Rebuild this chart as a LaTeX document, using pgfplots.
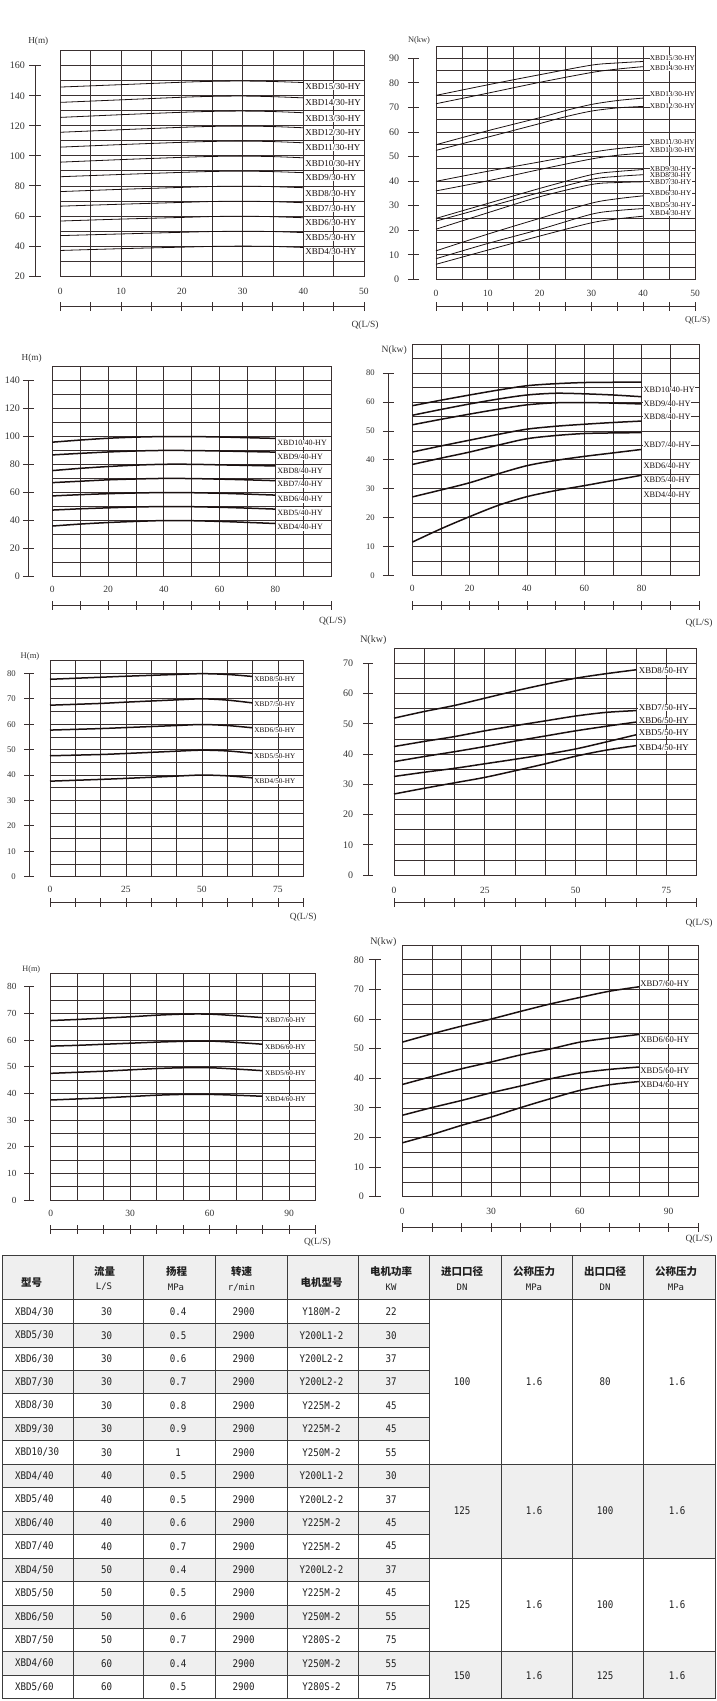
\documentclass[border=0pt]{standalone}
\usepackage{fontspec}
\setmainfont{Liberation Serif}
\newfontfamily\cjk{Noto Sans CJK SC}
\newfontfamily\tmono[FakeStretch=0.87]{DejaVu Sans Mono}
\newfontfamily\tmonoh{DejaVu Sans Mono}
\usepackage{pgfplots}
\pgfplotsset{compat=1.18}
\definecolor{gridc}{HTML}{3A3030}
\definecolor{txtc}{HTML}{333333}
\definecolor{curvec}{HTML}{1A1010}
\definecolor{rowg}{HTML}{EFEFEF}
\definecolor{tline}{HTML}{3C3C3C}
\newcommand\fs[1]{\fontsize{#1}{#1}\selectfont}
\tikzset{lab/.style={anchor=west, fill=white, inner sep=0.6pt, text=curvec}}
\pgfplotsset{
  /pgf/number format/assume math mode=true,
  box/.style={scale only axis, anchor=south west, clip=false, grid=major,
    major grid style={line width=0.75pt, draw=gridc},
    axis line style={line width=0.8pt, draw=gridc},
    major tick length=0pt, yticklabels={},
    xticklabel style={anchor=center, inner sep=0pt, text=txtc, font=\fs{9.5}}},
  ysc/.style={scale only axis, anchor=south west, width=1pt, xmin=0, xmax=1,
    hide x axis, axis y line=left, y axis line style={-, line width=0.8pt, draw=gridc},
    tick align=center, major tick length=10.7pt, ytick style={line width=0.8pt, draw=gridc},
    yticklabel style={anchor=east, inner sep=0pt, text=txtc, font=\fs{10}}},
  xsc/.style={scale only axis, anchor=south west, height=1pt, ymin=0, ymax=1,
    hide y axis, axis x line=bottom, x axis line style={-, line width=0.8pt, draw=gridc},
    tick align=center, major tick length=9pt, xtick style={line width=0.8pt, draw=gridc}, xticklabels={}},
  thinc/.style={curvec, line width=0.8pt, smooth, no marks},
  thickc/.style={curvec, line width=1.5pt, smooth, no marks},
}
\newcommand\trow[7]{%
  \pgfmathsetmacro\yy{-1300-23.45*(#1-0.5)}%
  \node[anchor=west, inner sep=0pt] at (15,\yy) {#2};
  \node at (106.5,\yy) {#3};
  \node at (178,\yy) {#4};
  \node at (243.5,\yy) {#5};
  \node at (321.5,\yy) {#6};
  \node at (391,\yy) {#7};
}
\begin{document}
\begin{tikzpicture}
\useasboundingbox (0,0) rectangle (716pt,-1701pt);

%================ chart 1: H 30
\begin{axis}[box, at={(60.3pt,-276pt)}, width=303.7pt, height=225.3pt,
  xmin=0, xmax=50, ymin=20, ymax=170, xtick={0,5,...,50}, ytick={20,30,...,170},
  xticklabels={0,,10,,20,,30,,40,,50}, xticklabel style={yshift=-15.7pt}]
\addplot[thinc] coordinates {(0,37.0)(10,38.2)(20,39.2)(25,39.7)(30,39.9)(35,39.7)(40,39.0)};
\addplot[thinc] coordinates {(0,46.9)(10,48.0)(20,49.1)(25,49.6)(30,49.8)(35,49.6)(40,48.9)};
\addplot[thinc] coordinates {(0,56.6)(10,57.9)(20,59.0)(25,59.6)(30,59.8)(35,59.5)(40,58.8)};
\addplot[thinc] coordinates {(0,66.5)(10,67.8)(20,69.0)(25,69.6)(30,69.8)(35,69.5)(40,68.8)};
\addplot[thinc] coordinates {(0,76.2)(10,77.7)(20,79.0)(25,79.6)(30,79.8)(35,79.5)(40,78.8)};
\addplot[thinc] coordinates {(0,86.1)(10,87.6)(20,89.0)(25,89.6)(30,89.8)(35,89.5)(40,88.8)};
\addplot[thinc] coordinates {(0,95.8)(10,97.5)(20,99.0)(25,99.6)(30,99.8)(35,99.5)(40,98.7)};
\addplot[thinc] coordinates {(0,105.8)(10,107.5)(20,109.0)(25,109.6)(30,109.8)(35,109.5)(40,108.7)};
\addplot[thinc] coordinates {(0,115.7)(10,117.4)(20,119.0)(25,119.6)(30,119.8)(35,119.5)(40,118.7)};
\addplot[thinc] coordinates {(0,125.6)(10,127.4)(20,129.0)(25,129.6)(30,129.8)(35,129.5)(40,128.7)};
\addplot[thinc] coordinates {(0,135.6)(10,137.3)(20,139.0)(25,139.6)(30,139.8)(35,139.4)(40,138.6)};
\addplot[thinc] coordinates {(0,145.8)(10,147.4)(20,149.0)(25,149.6)(30,149.8)(35,149.5)(40,148.8)};
\begin{scope}[every node/.style={lab, font=\fs{9}}]
\node at (axis cs:40.2,146.0) {XBD15/30-HY};
\node at (axis cs:40.2,135.6) {XBD14/30-HY};
\node at (axis cs:40.2,125.0) {XBD13/30-HY};
\node at (axis cs:40.2,115.7) {XBD12/30-HY};
\node at (axis cs:40.2,105.4) {XBD11/30-HY};
\node at (axis cs:40.2,95.0) {XBD10/30-HY};
\node at (axis cs:40.2,85.5) {XBD9/30-HY};
\node at (axis cs:40.2,75.1) {XBD8/30-HY};
\node at (axis cs:40.2,65.1) {XBD7/30-HY};
\node at (axis cs:40.2,55.5) {XBD6/30-HY};
\node at (axis cs:40.2,45.5) {XBD5/30-HY};
\node at (axis cs:40.2,36.2) {XBD4/30-HY};
\end{scope}
\end{axis}
\begin{axis}[ysc, at={(35pt,-276pt)}, height=210.3pt, ymin=20, ymax=160, ytick={20,40,...,160},
  major tick length=12pt, yticklabel style={xshift=-4pt}]
\end{axis}
\begin{axis}[xsc, at={(60.3pt,-306.6pt)}, width=303.7pt, xmin=0, xmax=50, xtick={0,5,...,50}]
\end{axis}
\node[text=txtc, font=\fs{9.2}] at (38.3pt,-41.7pt) {H(m)};
\node[text=txtc, font=\fs{9.5}] at (365pt,-325pt) {Q(L/S)};

%================ chart 2: N 30
\begin{axis}[box, at={(436pt,-279.3pt)}, width=259pt, height=233.3pt,
  xmin=0, xmax=50, ymin=0, ymax=95, xtick={0,5,...,50}, ytick={0,5,...,95},
  xticklabels={0,,10,,20,,30,,40,,50}, xticklabel style={yshift=-14pt}]
\addplot[thinc] coordinates {(0,74.9)(10,79.2)(20,83.3)(30,87.2)(35,88.1)(40,88.7)};
\addplot[thinc] coordinates {(0,71.5)(10,75.8)(20,80.2)(30,84.2)(35,85.6)(40,86.6)};
\addplot[thinc] coordinates {(0,54.8)(10,60.5)(20,65.8)(25,68.7)(30,71.2)(35,72.8)(40,73.8)};
\addplot[thinc] coordinates {(0,52.5)(10,57.9)(20,63.4)(25,66.2)(30,68.5)(35,69.8)(40,70.4)};
\addplot[thinc] coordinates {(0,39.9)(10,44.0)(20,47.8)(30,51.7)(35,53.2)(40,54.2)};
\addplot[thinc] coordinates {(0,36.0)(10,40.1)(20,44.7)(30,49.0)(35,50.5)(40,51.4)};
\addplot[thinc] coordinates {(0,24.8)(10,30.9)(20,37.0)(30,42.6)(35,43.9)(40,44.7)};
\addplot[thinc] coordinates {(0,23.7)(10,29.5)(20,35.3)(30,40.7)(35,41.9)(40,42.6)};
\addplot[thinc] coordinates {(0,20.4)(10,27.1)(20,33.6)(30,38.6)(35,39.4)(40,39.7)};
\addplot[thinc] coordinates {(0,11.6)(10,18.4)(20,24.8)(30,31.0)(35,32.8)(40,34.0)};
\addplot[thinc] coordinates {(0,8.4)(10,14.6)(20,20.3)(30,26.5)(35,28.0)(40,28.8)};
\addplot[thinc] coordinates {(0,6.1)(10,11.9)(20,17.6)(30,23.0)(35,24.6)(40,25.7)};
\begin{scope}[every node/.style={lab, inner sep=0.3pt, font=\fs{7.3}}]
\node at (axis cs:41.2,90.2) {XBD15/30-HY};
\node at (axis cs:41.2,85.9) {XBD14/30-HY};
\node at (axis cs:41.2,75.3) {XBD13/30-HY};
\node at (axis cs:41.2,70.7) {XBD12/30-HY};
\node at (axis cs:41.2,55.8) {XBD11/30-HY};
\node at (axis cs:41.2,52.8) {XBD10/30-HY};
\node at (axis cs:41.2,45.0) {XBD9/30-HY};
\node at (axis cs:41.2,42.3) {XBD8/30-HY};
\node at (axis cs:41.2,39.7) {XBD7/30-HY};
\node at (axis cs:41.2,35.0) {XBD6/30-HY};
\node at (axis cs:41.2,30.3) {XBD5/30-HY};
\node at (axis cs:41.2,27.1) {XBD4/30-HY};
\end{scope}
\end{axis}
\begin{axis}[ysc, at={(413.3pt,-279.3pt)}, height=221pt, ymin=0, ymax=90, ytick={0,10,...,90},
  yticklabel style={xshift=-8.6pt}]
\end{axis}
\begin{axis}[xsc, at={(436pt,-306.3pt)}, width=259pt, xmin=0, xmax=50, xtick={0,5,...,50}]
\end{axis}
\node[text=txtc, font=\fs{8.4}] at (419pt,-40.7pt) {N(kw)};
\node[text=txtc, font=\fs{8.8}] at (697.5pt,-320pt) {Q(L/S)};

%================ chart 3: H 40
\begin{axis}[box, at={(52.3pt,-576.7pt)}, width=278.7pt, height=210pt,
  xmin=0, xmax=100, ymin=0, ymax=150, xtick={0,10,...,100}, ytick={0,10,...,150},
  xticklabels={0,,20,,40,,60,,80,,}, xticklabel style={yshift=-13pt}]
\addplot[thickc] coordinates {(0,96.1)(10,97.6)(20,98.9)(30,99.7)(40,100.1)(50,100.1)(60,99.8)(70,99.3)(80,98.8)};
\addplot[thickc] coordinates {(0,87.0)(10,88.1)(20,89.1)(30,89.8)(40,90.2)(50,90.1)(60,89.8)(70,89.4)(80,89.0)};
\addplot[thickc] coordinates {(0,75.8)(10,77.4)(20,78.7)(30,79.7)(40,80.3)(50,80.3)(60,79.9)(70,79.5)(80,79.1)};
\addplot[thickc] coordinates {(0,67.2)(10,68.2)(20,69.2)(30,69.8)(40,70.2)(50,70.1)(60,69.7)(70,69.2)(80,68.6)};
\addplot[thickc] coordinates {(0,57.7)(10,58.6)(20,59.3)(30,59.8)(40,60.1)(50,60.0)(60,59.6)(70,59.0)(80,58.3)};
\addplot[thickc] coordinates {(0,47.6)(10,48.5)(20,49.2)(30,49.8)(40,50.1)(50,50.0)(60,49.6)(70,49.0)(80,48.3)};
\addplot[thickc] coordinates {(0,36.2)(10,37.6)(20,38.7)(30,39.5)(40,40.1)(50,40.0)(60,39.5)(70,38.8)(80,38.0)};
\begin{scope}[every node/.style={lab, font=\fs{8}}]
\node at (axis cs:80.5,95.3) {XBD10/40-HY};
\node at (axis cs:80.5,85.7) {XBD9/40-HY};
\node at (axis cs:80.5,75.5) {XBD8/40-HY};
\node at (axis cs:80.5,66.0) {XBD7/40-HY};
\node at (axis cs:80.5,55.3) {XBD6/40-HY};
\node at (axis cs:80.5,45.7) {XBD5/40-HY};
\node at (axis cs:80.5,35.3) {XBD4/40-HY};
\end{scope}
\end{axis}
\begin{axis}[ysc, at={(28.3pt,-576.7pt)}, height=196pt, ymin=0, ymax=140, ytick={0,20,...,140},
  yticklabel style={xshift=-3pt}]
\end{axis}
\begin{axis}[xsc, at={(52.3pt,-605pt)}, width=278.7pt, xmin=0, xmax=100, xtick={0,10,...,100}]
\end{axis}
\node[text=txtc, font=\fs{9.2}] at (31.7pt,-358.3pt) {H(m)};
\node[text=txtc, font=\fs{9.5}] at (332.5pt,-621.7pt) {Q(L/S)};

%================ chart 4: N 40
\begin{axis}[box, at={(412.3pt,-575.7pt)}, width=286.7pt, height=231.7pt,
  xmin=0, xmax=100, ymin=0, ymax=80, xtick={0,10,...,100}, ytick={0,5,...,80},
  xticklabels={0,,20,,40,,60,,80,,}, xticklabel style={yshift=-13pt}]
\addplot[thickc] coordinates {(0,58.7)(10,60.6)(20,62.4)(30,64.1)(40,65.6)(50,66.3)(60,66.7)(70,66.8)(80,66.8)};
\addplot[thickc] coordinates {(0,55.4)(10,57.4)(20,59.3)(30,61.0)(40,62.4)(50,63.0)(60,62.8)(70,62.4)(80,61.8)};
\addplot[thickc] coordinates {(0,52.1)(10,54.0)(20,55.8)(30,57.5)(40,59.0)(50,59.7)(60,59.8)(70,59.6)(80,59.3)};
\addplot[thickc] coordinates {(0,42.7)(10,44.8)(20,46.8)(30,48.8)(40,50.6)(50,51.6)(60,52.3)(70,52.9)(80,53.4)};
\addplot[thickc] coordinates {(0,38.4)(10,40.6)(20,42.7)(30,45.1)(40,47.3)(50,48.4)(60,49.1)(70,49.3)(80,49.4)};
\addplot[thickc] coordinates {(0,27.2)(10,29.6)(20,32.1)(30,35.2)(40,38.0)(50,39.8)(60,41.2)(70,42.4)(80,43.6)};
\addplot[thickc] coordinates {(0,11.6)(10,16.2)(20,20.4)(30,24.3)(40,27.3)(50,29.4)(60,31.1)(70,32.9)(80,34.7)};
\begin{scope}[every node/.style={lab, font=\fs{8.3}}]
\node at (axis cs:80.4,64.1) {XBD10/40-HY};
\node at (axis cs:80.4,59.3) {XBD9/40-HY};
\node at (axis cs:80.4,54.9) {XBD8/40-HY};
\node at (axis cs:80.4,45.1) {XBD7/40-HY};
\node at (axis cs:80.4,37.9) {XBD6/40-HY};
\node at (axis cs:80.4,33.0) {XBD5/40-HY};
\node at (axis cs:80.4,27.9) {XBD4/40-HY};
\end{scope}
\end{axis}
\begin{axis}[ysc, at={(388.3pt,-575.7pt)}, height=202.7pt, ymin=0, ymax=70, ytick={0,10,...,70},
  yticklabels={0,10,20,30,40,50,60,80}, yticklabel style={xshift=-8pt, font=\fs{8.6}}]
\end{axis}
\begin{axis}[xsc, at={(412.3pt,-605pt)}, width=286.7pt, xmin=0, xmax=100, xtick={0,10,...,100}]
\end{axis}
\node[text=txtc, font=\fs{9.6}] at (394.2pt,-350pt) {N(kw)};
\node[text=txtc, font=\fs{9.5}] at (699pt,-623.3pt) {Q(L/S)};

%================ chart 5: H 50
\begin{axis}[box, at={(50pt,-876.7pt)}, width=253.3pt, height=216pt,
  xmin=0, xmax=83.33333, ymin=0, ymax=85,
  xtick={0,8.33333,16.66667,25,33.33333,41.66667,50,58.33333,66.66667,75,83.33333}, ytick={0,5,...,85},
  xticklabels={0,,,25,,,50,,,75,}, xticklabel style={yshift=-12.6pt}]
\addplot[thickc] coordinates {(0,77.7)(16.67,78.5)(25,78.9)(41.67,79.6)(50,79.9)(58.33,79.6)(66.67,78.8)};
\addplot[thickc] coordinates {(0,67.5)(16.67,68.2)(25,68.7)(41.67,69.6)(50,70.0)(58.33,69.5)(66.67,68.4)};
\addplot[thickc] coordinates {(0,57.7)(16.67,58.3)(25,58.7)(41.67,59.5)(50,59.9)(58.33,59.5)(66.67,58.6)};
\addplot[thickc] coordinates {(0,47.6)(16.67,48.1)(25,48.5)(41.67,49.4)(50,49.8)(58.33,49.5)(66.67,48.6)};
\addplot[thickc] coordinates {(0,37.6)(16.67,38.3)(25,38.7)(41.67,39.6)(50,40.0)(58.33,39.7)(66.67,38.9)};
\begin{scope}[every node/.style={lab, font=\fs{7.2}}]
\node at (axis cs:67.0,77.7) {XBD8/50-HY};
\node at (axis cs:67.0,67.8) {XBD7/50-HY};
\node at (axis cs:67.0,57.7) {XBD6/50-HY};
\node at (axis cs:67.0,47.6) {XBD5/50-HY};
\node at (axis cs:67.0,37.8) {XBD4/50-HY};
\end{scope}
\end{axis}
\begin{axis}[ysc, at={(29pt,-876.7pt)}, height=203.3pt, ymin=0, ymax=80, ytick={0,10,...,80},
  major tick length=10pt, yticklabel style={xshift=-8pt, font=\fs{8.7}}]
\end{axis}
\begin{axis}[xsc, at={(50pt,-902.3pt)}, width=253.3pt, xmin=0, xmax=83.33333,
  xtick={0,8.33333,16.66667,25,33.33333,41.66667,50,58.33333,66.66667,75,83.33333}]
\end{axis}
\node[text=txtc, font=\fs{8.6}] at (30pt,-656.7pt) {H(m)};
\node[text=txtc, font=\fs{9.4}] at (303.3pt,-917.3pt) {Q(L/S)};

%================ chart 6: N 50
\begin{axis}[box, at={(394pt,-875pt)}, width=302.7pt, height=226.7pt,
  xmin=0, xmax=83.33333, ymin=0, ymax=75,
  xtick={0,8.33333,16.66667,25,33.33333,41.66667,50,58.33333,66.66667,75,83.33333}, ytick={0,5,...,75},
  xticklabels={0,,,25,,,50,,,75,}, xticklabel style={yshift=-15pt}]
\addplot[thickc] coordinates {(0,51.9)(8.33,54.1)(16.67,56.1)(25,58.5)(33.33,60.9)(41.67,63.1)(50,65.1)(58.33,66.6)(66.67,67.9)};
\addplot[thickc] coordinates {(0,42.5)(8.33,44.2)(16.67,45.8)(25,47.7)(33.33,49.4)(41.67,51.0)(50,52.6)(58.33,53.8)(66.67,54.4)};
\addplot[thickc] coordinates {(0,37.5)(8.33,39.2)(16.67,40.8)(25,42.5)(33.33,44.3)(41.67,46.0)(50,47.7)(58.33,49.2)(66.67,50.6)};
\addplot[thickc] coordinates {(0,32.6)(8.33,34.0)(16.67,35.3)(25,36.8)(33.33,38.3)(41.67,39.9)(50,41.7)(58.33,44.0)(66.67,46.4)};
\addplot[thickc] coordinates {(0,26.8)(8.33,28.7)(16.67,30.5)(25,32.3)(33.33,34.5)(41.67,36.8)(50,39.3)(58.33,41.3)(66.67,42.8)};
\begin{scope}[every node/.style={lab, font=\fs{8.8}}]
\node at (axis cs:67.2,67.5) {XBD8/50-HY};
\node at (axis cs:67.2,55.3) {XBD7/50-HY};
\node at (axis cs:67.2,51.0) {XBD6/50-HY};
\node at (axis cs:67.2,47.1) {XBD5/50-HY};
\node at (axis cs:67.2,42.2) {XBD4/50-HY};
\end{scope}
\end{axis}
\begin{axis}[ysc, at={(368.3pt,-875pt)}, height=211.6pt, ymin=0, ymax=70, ytick={0,10,...,70},
  major tick length=10pt, yticklabel style={xshift=-10pt}]
\end{axis}
\begin{axis}[xsc, at={(394pt,-902.3pt)}, width=302.7pt, xmin=0, xmax=83.33333,
  xtick={0,8.33333,16.66667,25,33.33333,41.66667,50,58.33333,66.66667,75,83.33333}]
\end{axis}
\node[text=txtc, font=\fs{10}] at (373.3pt,-640pt) {N(kw)};
\node[text=txtc, font=\fs{9.5}] at (699pt,-923.3pt) {Q(L/S)};

%================ chart 7: H 60
\begin{axis}[box, at={(50.7pt,-1200pt)}, width=265pt, height=226.7pt,
  xmin=0, xmax=100, ymin=0, ymax=85, xtick={0,10,...,100}, ytick={0,5,...,85},
  xticklabels={0,,,30,,,60,,,90,}, xticklabel style={yshift=-13.3pt}]
\addplot[thickc] coordinates {(0,67.3)(10,67.7)(20,68.2)(30,68.7)(40,69.3)(50,69.7)(60,69.7)(70,69.1)(80,68.4)};
\addplot[thickc] coordinates {(0,57.7)(10,58.0)(20,58.4)(30,58.8)(40,59.2)(50,59.5)(60,59.6)(70,59.1)(80,58.4)};
\addplot[thickc] coordinates {(0,47.5)(10,47.9)(20,48.3)(30,48.8)(40,49.3)(50,49.6)(60,49.6)(70,49.1)(80,48.5)};
\addplot[thickc] coordinates {(0,37.5)(10,37.9)(20,38.3)(30,38.8)(40,39.3)(50,39.6)(60,39.6)(70,39.3)(80,38.9)};
\begin{scope}[every node/.style={lab, font=\fs{7.2}}]
\node at (axis cs:80.6,67.5) {XBD7/60-HY};
\node at (axis cs:80.6,57.5) {XBD6/60-HY};
\node at (axis cs:80.6,47.7) {XBD5/60-HY};
\node at (axis cs:80.6,37.8) {XBD4/60-HY};
\end{scope}
\end{axis}
\begin{axis}[ysc, at={(29pt,-1200pt)}, height=213.3pt, ymin=0, ymax=80, ytick={0,10,...,80},
  major tick length=10pt, yticklabel style={xshift=-7.3pt, font=\fs{9.3}}]
\end{axis}
\begin{axis}[xsc, at={(50.7pt,-1229.3pt)}, width=265pt, xmin=0, xmax=100, xtick={0,10,...,100}]
\end{axis}
\node[text=txtc, font=\fs{8.2}] at (31.3pt,-970pt) {H(m)};
\node[text=txtc, font=\fs{9.4}] at (317.5pt,-1242.7pt) {Q(L/S)};

%================ chart 8: N 60
\begin{axis}[box, at={(402.3pt,-1196.7pt)}, width=296pt, height=251.7pt,
  xmin=0, xmax=100, ymin=0, ymax=85, xtick={0,10,...,100}, ytick={0,5,...,85},
  xticklabels={0,,,30,,,60,,,90,}, xticklabel style={yshift=-15pt}]
\addplot[thickc] coordinates {(0,52.2)(10,55.0)(20,57.6)(30,60.0)(40,62.6)(50,65.1)(60,67.3)(70,69.4)(80,70.9)};
\addplot[thickc] coordinates {(0,37.9)(10,40.6)(20,43.2)(30,45.5)(40,47.9)(50,49.9)(60,52.2)(70,53.6)(80,54.8)};
\addplot[thickc] coordinates {(0,27.5)(10,30.1)(20,32.5)(30,35.1)(40,37.4)(50,39.8)(60,41.8)(70,43.0)(80,43.8)};
\addplot[thickc] coordinates {(0,18.2)(10,21.0)(20,24.1)(30,26.9)(40,30.1)(50,33.1)(60,35.9)(70,37.8)(80,38.9)};
\begin{scope}[every node/.style={lab, font=\fs{8.6}}]
\node at (axis cs:80.2,71.8) {XBD7/60-HY};
\node at (axis cs:80.2,52.9) {XBD6/60-HY};
\node at (axis cs:80.2,42.6) {XBD5/60-HY};
\node at (axis cs:80.2,37.7) {XBD4/60-HY};
\end{scope}
\end{axis}
\begin{axis}[ysc, at={(375pt,-1196.7pt)}, height=236.9pt, ymin=0, ymax=80, ytick={0,10,...,80},
  major tick length=12pt, yticklabel style={xshift=-5pt}]
\end{axis}
\begin{axis}[xsc, at={(402.3pt,-1227.3pt)}, width=296pt, xmin=0, xmax=100, xtick={0,10,...,100}]
\end{axis}
\node[text=txtc, font=\fs{10}] at (383.3pt,-941.7pt) {N(kw)};
\node[text=txtc, font=\fs{9.5}, anchor=east] at (716pt,-1239.3pt) {Q(L/S)};

%================ table
\begin{scope}[x=1pt, y=1pt]
\fill[rowg] (2.5,-1255.5) rectangle (715,-1299.5);
\foreach \i in {2,4,...,16} {\fill[rowg] (2.5,{-1300-23.45*(\i-1)}) rectangle (429.8,{-1300-23.45*\i});}
\fill[rowg] (429.8,{-1300-23.45*7}) rectangle (715,{-1300-23.45*11});
\fill[rowg] (429.8,{-1300-23.45*15}) rectangle (715,{-1300-23.45*17});
\draw[tline, line width=0.8pt] (2.5,-1255.5) rectangle (715,{-1300-23.45*17});
\draw[tline, line width=0.8pt] (2.5,-1299.5) -- (715,-1299.5);
\foreach \i in {1,...,16} {\draw[tline, line width=0.7pt] (2.5,{-1300-23.45*\i}) -- (429.8,{-1300-23.45*\i});}
\foreach \i in {7,11,15} {\draw[tline, line width=0.8pt] (429.8,{-1300-23.45*\i}) -- (715,{-1300-23.45*\i});}
\foreach \xx in {73.3,143.8,215,287,358.5,429.8,501.1,572.4,643.7} {\draw[tline, line width=0.8pt] (\xx,-1255.5) -- (\xx,{-1300-23.45*17});}
\begin{scope}[every node/.style={text=black!88, font=\cjk\bfseries\fs{10.5}}]
\node at (31.7,-1282.7) {型号};
\node at (321.5,-1282.7) {电机型号};
\node at (104.5,-1271.7) {流量};
\node at (176.7,-1271.7) {扬程};
\node at (241.5,-1271.7) {转速};
\node at (391,-1271.7) {电机功率};
\node at (462,-1271.7) {进口口径};
\node at (534,-1271.7) {公称压力};
\node at (605,-1271.7) {出口口径};
\node at (676,-1271.7) {公称压力};
\end{scope}
\begin{scope}[every node/.style={text=black!88, font=\tmonoh\fs{9}}]
\node at (104,-1287) {L/S};
\node at (176,-1287) {MPa};
\node at (241.5,-1287) {r/min};
\node at (391,-1287) {KW};
\node at (462,-1287) {DN};
\node at (534,-1287) {MPa};
\node at (605,-1287) {DN};
\node at (676,-1287) {MPa};
\end{scope}
\begin{scope}[every node/.style={text=black!88, font=\tmono\fs{10.5}}]
\trow{1}{XBD4/30}{30}{0.4}{2900}{Y180M-2}{22}
\trow{2}{XBD5/30}{30}{0.5}{2900}{Y200L1-2}{30}
\trow{3}{XBD6/30}{30}{0.6}{2900}{Y200L2-2}{37}
\trow{4}{XBD7/30}{30}{0.7}{2900}{Y200L2-2}{37}
\trow{5}{XBD8/30}{30}{0.8}{2900}{Y225M-2}{45}
\trow{6}{XBD9/30}{30}{0.9}{2900}{Y225M-2}{45}
\trow{7}{XBD10/30}{30}{1}{2900}{Y250M-2}{55}
\trow{8}{XBD4/40}{40}{0.5}{2900}{Y200L1-2}{30}
\trow{9}{XBD5/40}{40}{0.5}{2900}{Y200L2-2}{37}
\trow{10}{XBD6/40}{40}{0.6}{2900}{Y225M-2}{45}
\trow{11}{XBD7/40}{40}{0.7}{2900}{Y225M-2}{45}
\trow{12}{XBD4/50}{50}{0.4}{2900}{Y200L2-2}{37}
\trow{13}{XBD5/50}{50}{0.5}{2900}{Y225M-2}{45}
\trow{14}{XBD6/50}{50}{0.6}{2900}{Y250M-2}{55}
\trow{15}{XBD7/50}{50}{0.7}{2900}{Y280S-2}{75}
\trow{16}{XBD4/60}{60}{0.4}{2900}{Y250M-2}{55}
\trow{17}{XBD5/60}{60}{0.5}{2900}{Y280S-2}{75}
\node at (462,-1382.08) {100};
\node at (534,-1382.08) {1.6};
\node at (605,-1382.08) {80};
\node at (677,-1382.08) {1.6};
\node at (462,-1511.05) {125};
\node at (534,-1511.05) {1.6};
\node at (605,-1511.05) {100};
\node at (677,-1511.05) {1.6};
\node at (462,-1604.85) {125};
\node at (534,-1604.85) {1.6};
\node at (605,-1604.85) {100};
\node at (677,-1604.85) {1.6};
\node at (462,-1675.2) {150};
\node at (534,-1675.2) {1.6};
\node at (605,-1675.2) {125};
\node at (677,-1675.2) {1.6};
\end{scope}
\end{scope}
\end{tikzpicture}
\end{document}
